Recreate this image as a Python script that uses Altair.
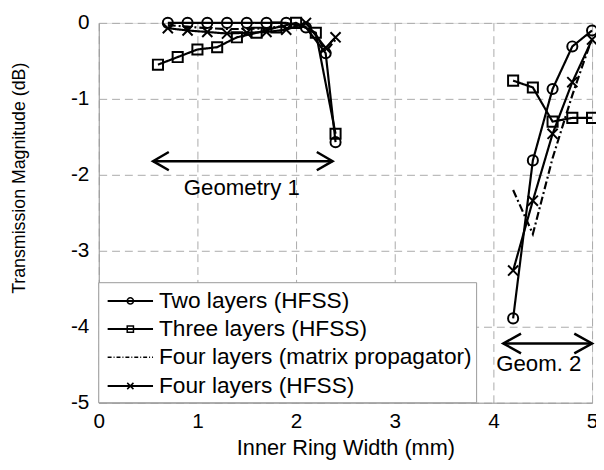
import altair as alt
import pandas as pd

FONT = "Liberation Sans"

series_names = ["Two layers (HFSS)", "Three layers (HFSS)",
                "Four layers (matrix propagator)", "Four layers (HFSS)"]

# Geometry 1
two_g1_x = [0.7, 0.9, 1.1, 1.3, 1.5, 1.7, 1.9, 2.1, 2.3, 2.4]
two_g1_y = [0.0, 0.0, 0.0, 0.0, 0.0, 0.0, 0.0, -0.06, -0.40, -1.57]
three_g1_x = [0.6, 0.8, 1.0, 1.2, 1.4, 1.6, 1.8, 2.0, 2.2, 2.4]
three_g1_y = [-0.55, -0.45, -0.35, -0.32, -0.19, -0.13, -0.06, 0.0, -0.13, -1.46]
matrix_g1_x = [0.7, 0.9, 1.1, 1.3, 1.5, 1.7, 1.9, 2.0, 2.1, 2.2, 2.3, 2.4]
matrix_g1_y = [-0.03, -0.05, -0.07, -0.08, -0.08, -0.07, -0.04, -0.02, -0.05, -0.15, -0.38, -0.22]
four_g1_x = [0.7, 0.9, 1.1, 1.3, 1.5, 1.7, 1.9, 2.1, 2.3, 2.4]
four_g1_y = [-0.07, -0.10, -0.12, -0.14, -0.13, -0.12, -0.09, 0.0, -0.33, -0.19]

# Geometry 2
two_g2_x = [4.2, 4.4, 4.6, 4.8, 5.0]
two_g2_y = [-3.89, -1.81, -0.87, -0.31, -0.10]
three_g2_x = [4.2, 4.4, 4.6, 4.8, 5.0]
three_g2_y = [-0.76, -0.85, -1.30, -1.25, -1.25]
matrix_g2_x = [4.2, 4.4, 4.6, 4.8, 5.0]
matrix_g2_y = [-2.20, -2.78, -1.78, -0.95, -0.20]
four_g2_x = [4.2, 4.4, 4.6, 4.8, 5.0]
four_g2_y = [-3.26, -2.34, -1.46, -0.78, -0.22]

x_ticks = [0, 1, 2, 3, 4, 5]
y_ticks = [-5, -4, -3, -2, -1, 0]

# Annotations
arrow_x_start = [0.55, 4.10]
arrow_x_end = [2.37, 5.00]
arrow_y = [-1.82, -4.22]
arrow_head_dx = [0.16, 0.18]
arrow_head_dy = [0.12, 0.13]
note_text = ["Geometry 1", "Geom. 2"]
note_x = [1.45, 4.46]
note_y = [-2.17, -4.49]

# Legend layout (data units)
legend_box = dict(x=0.0, x2=3.83, y=-3.42, y2=-5.0)
legend_rows_y = [-3.66, -4.03, -4.40, -4.78]
legend_line_x = [0.09, 0.55]
legend_marker_x = 0.32
legend_text_x = 0.61

# ---- build tables ----
rows = []
for s, xs, ys, g in [
    (series_names[0], two_g1_x, two_g1_y, 1), (series_names[0], two_g2_x, two_g2_y, 2),
    (series_names[1], three_g1_x, three_g1_y, 1), (series_names[1], three_g2_x, three_g2_y, 2),
    (series_names[2], matrix_g1_x, matrix_g1_y, 1), (series_names[2], matrix_g2_x, matrix_g2_y, 2),
    (series_names[3], four_g1_x, four_g1_y, 1), (series_names[3], four_g2_x, four_g2_y, 2),
]:
    for xv, yv in zip(xs, ys):
        rows.append({"series": s, "grp": f"{s}-{g}", "x": xv, "y": yv})
df = pd.DataFrame(rows)

arrow_rows = []
for i in range(len(arrow_y)):
    a, b, yv, dx, dy = arrow_x_start[i], arrow_x_end[i], arrow_y[i], arrow_head_dx[i], arrow_head_dy[i]
    arrow_rows += [{"g": f"a{i}m", "o": 0, "x": a, "y": yv}, {"g": f"a{i}m", "o": 1, "x": b, "y": yv}]
    arrow_rows += [{"g": f"a{i}l", "o": 0, "x": a + dx, "y": yv + dy},
                   {"g": f"a{i}l", "o": 1, "x": a, "y": yv},
                   {"g": f"a{i}l", "o": 2, "x": a + dx, "y": yv - dy}]
    arrow_rows += [{"g": f"a{i}r", "o": 0, "x": b - dx, "y": yv + dy},
                   {"g": f"a{i}r", "o": 1, "x": b, "y": yv},
                   {"g": f"a{i}r", "o": 2, "x": b - dx, "y": yv - dy}]
arrows_df = pd.DataFrame(arrow_rows)
notes_df = pd.DataFrame({"t": note_text, "x": note_x, "y": note_y})

leg_lines = []
for s, ly in zip(series_names, legend_rows_y):
    for lx in legend_line_x:
        leg_lines.append({"series": s, "x": lx, "y": ly})
leg_lines_df = pd.DataFrame(leg_lines)
leg_pts_df = pd.DataFrame({"series": series_names, "x": [legend_marker_x] * 4, "y": legend_rows_y})
leg_txt_df = pd.DataFrame({"series": series_names, "x": [legend_text_x] * 4, "y": legend_rows_y})
box_df = pd.DataFrame([legend_box])

x_scale = alt.Scale(domain=[0, 5], nice=False)
y_scale = alt.Scale(domain=[-5, 0], nice=False)

x_enc = alt.X("x:Q", scale=x_scale, axis=alt.Axis(
    values=x_ticks, title="Inner Ring Width (mm)", grid=True, gridDash=[8, 5],
    gridColor="#aaaaaa", domainColor="#999999", ticks=False, labelFontSize=21,
    labelFont=FONT, labelColor="black", labelPadding=8, labelFlush=False,
    labelExpr="datum.value + ''",
    titleFont=FONT, titleFontSize=22, titleFontWeight="normal", titleColor="black",
    titlePadding=6))
y_enc = alt.Y("y:Q", scale=y_scale, axis=alt.Axis(
    values=y_ticks, title="Transmission Magnitude (dB)", grid=True, gridDash=[8, 5],
    gridColor="#aaaaaa", domainColor="#999999", ticks=False, labelFontSize=21,
    labelFont=FONT, labelColor="black", labelPadding=10, labelFlush=False,
    labelExpr="datum.value + ''",
    titleFont=FONT, titleFontSize=18, titleFontWeight="normal", titleColor="black",
    titleX=-80, titleY=157, titleBaseline="middle"))

dash_scale = alt.Scale(domain=series_names, range=[[1, 0], [1, 0], [8, 3, 2, 3], [1, 0]])
shape_scale = alt.Scale(domain=[series_names[0], series_names[1], series_names[3]],
                        range=["circle", "square", "M-1,-1L1,1M-1,1L1,-1"])

lines = alt.Chart(df).mark_line(color="black", strokeWidth=2.2).encode(
    x=x_enc, y=y_enc, detail="grp:N",
    strokeDash=alt.StrokeDash("series:N", scale=dash_scale, legend=None),
)
points = alt.Chart(df).transform_filter(
    alt.datum.series != series_names[2]
).mark_point(filled=False, color="black", strokeWidth=2, size=105, opacity=1).encode(
    x="x:Q", y="y:Q",
    shape=alt.Shape("series:N", scale=shape_scale, legend=None),
)
arrows = alt.Chart(arrows_df).mark_line(color="black", strokeWidth=2.5).encode(
    x="x:Q", y="y:Q", detail="g:N", order="o:Q")
notes = alt.Chart(notes_df).mark_text(font=FONT, fontSize=22.5, color="black",
                                      baseline="middle", align="center").encode(
    x="x:Q", y="y:Q", text="t:N")

box = alt.Chart(box_df).mark_rect(fill="white", stroke="#999999", strokeWidth=1).encode(
    x="x:Q", x2="x2:Q", y="y:Q", y2="y2:Q")
leg_solid = alt.Chart(leg_lines_df).transform_filter(
    alt.datum.series != series_names[2]
).mark_line(color="black", strokeWidth=2).encode(x="x:Q", y="y:Q", detail="series:N")
leg_dash = alt.Chart(leg_lines_df).transform_filter(
    alt.datum.series == series_names[2]
).mark_line(color="black", strokeWidth=1.5, strokeDash=[4, 2, 1, 2]).encode(x="x:Q", y="y:Q")
leg_pts = alt.Chart(leg_pts_df).transform_filter(
    alt.datum.series != series_names[2]
).mark_point(filled=False, color="black", strokeWidth=1.5, size=40, opacity=1).encode(
    x="x:Q", y="y:Q", shape=alt.Shape("series:N", scale=shape_scale, legend=None))
leg_txt = alt.Chart(leg_txt_df).mark_text(font=FONT, fontSize=23, color="black",
                                          baseline="middle", align="left").encode(
    x="x:Q", y="y:Q", text="series:N")

chart = alt.layer(
    lines, points, arrows, notes, box, leg_solid, leg_dash, leg_pts, leg_txt
).properties(
    width=500, height=385, autosize="none",
    padding={"left": 92, "top": 12, "right": 4, "bottom": 57},
).configure_view(stroke="#999999", strokeWidth=1).configure(background="white")

chart.save("out.html", embed_options={"renderer": "svg", "actions": False})
